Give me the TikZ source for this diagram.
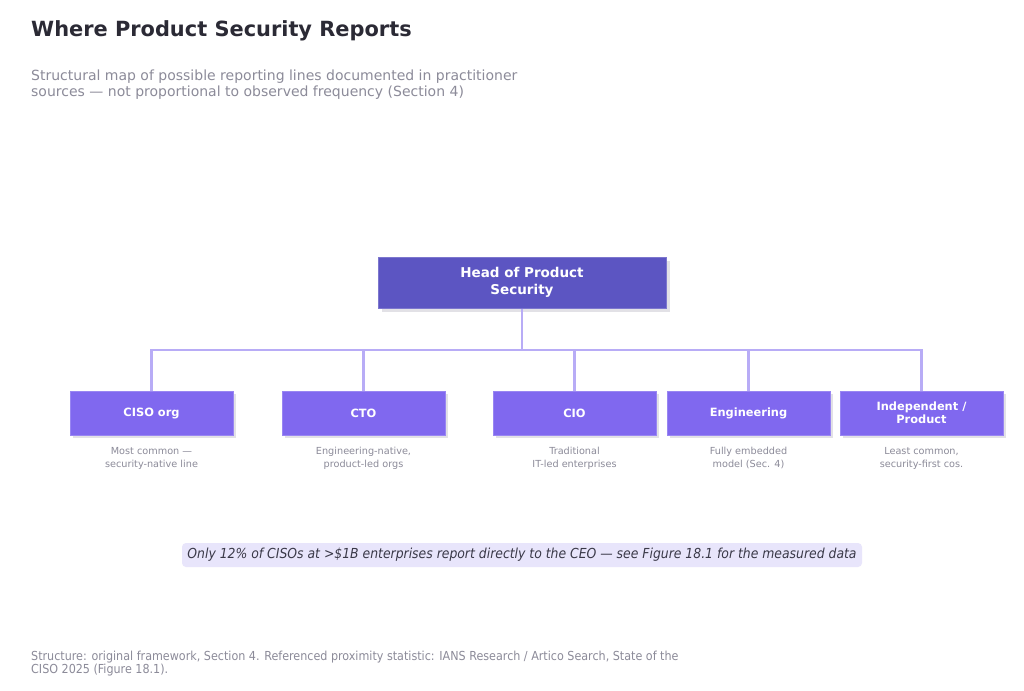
\documentclass[tikz,border=0pt]{standalone}
\usepackage{fontspec}
\setmainfont{DejaVu Sans}
\newfontfamily\condfont{DejaVu Sans Condensed}
\definecolor{titlec}{HTML}{2B2A35}
\definecolor{subc}{HTML}{8C8B99}
\definecolor{headc}{HTML}{5C55C2}
\definecolor{childc}{HTML}{8068EF}
\definecolor{linec}{HTML}{B8ACF6}
\definecolor{shadc}{HTML}{E2E1E6}
\definecolor{notec}{HTML}{E8E5FB}
\definecolor{notetxt}{HTML}{3A3948}
\begin{document}
\begin{tikzpicture}[x=1pt,y=-1pt,
  headbox/.style={fill=headc, draw=headc!80!white, line width=0.6pt, minimum width=288pt, minimum height=51pt, text=white, font=\bfseries\fontsize{13.5}{16.5}\selectfont, align=center, inner sep=0pt},
  childbox/.style={fill=childc, draw=childc!80!white, line width=0.6pt, minimum width=163pt, minimum height=44pt, text=white, font=\bfseries\fontsize{11.4}{13}\selectfont, align=center, inner sep=0pt},
  shad/.style={fill=shadc},
  captxt/.style={text=subc, font=\fontsize{9.7}{13}\selectfont, align=center, anchor=north, inner sep=0pt},
  conn/.style={draw=linec, line width=2.5pt}
]
\useasboundingbox (0,0) rectangle (1024,690);
\fill[white] (0,0) rectangle (1024,690);

% title
\node[anchor=base west, inner sep=0pt, text=titlec, font=\bfseries\fontsize{20.9}{25}\selectfont] (title) at (31,37) {Where Product Security Reports};
\node[anchor=north west, inner sep=0pt, text=subc, font=\fontsize{14}{16}\selectfont, align=left] (sub) at (31,69.5) {Structural map of possible reporting lines documented in practitioner\\sources — not proportional to observed frequency (Section 4)};

% shadows
\fill[shad] (382,261) rectangle (670,312);
\foreach \cx in {151.5,363.5,574.5,748.5,921.5}{
  \fill[shad] (\cx-81.5+3,394) rectangle (\cx+81.5+3,438);
}

% nodes
\coordinate (bus) at (522,350);
\node[headbox] (head) at (522,282.5) {Head of Product\\Security};
\node[childbox] (ciso) at (151.5,413) {CISO org};
\node[childbox] (cto) at (363.5,413) {CTO};
\node[childbox] (cio) at (574.5,413) {CIO};
\node[childbox] (eng) at (748.5,413) {Engineering};
\node[childbox] (ind) at (921.5,413) {Independent /\\Product};

% connectors
\draw[conn] (head.south) -- (bus);
\draw[conn] (ciso.north) |- (bus);
\draw[conn] (ind.north) |- (bus);
\draw[conn] (cto.north) -- (cto.north |- bus);
\draw[conn] (cio.north) -- (cio.north |- bus);
\draw[conn] (eng.north) -- (eng.north |- bus);

% redraw boxes over lines
\node[headbox] at (head) {Head of Product\\Security};
\node[childbox] at (ciso) {CISO org};
\node[childbox] at (cto) {CTO};
\node[childbox] at (cio) {CIO};
\node[childbox] at (eng) {Engineering};
\node[childbox] at (ind) {Independent /\\Product};

% captions
\node[captxt] (c1) at (151.5,447) {Most common —\\security-native line};
\node[captxt] (c2) at (363.5,447) {Engineering-native,\\product-led orgs};
\node[captxt] (c3) at (574.5,447) {Traditional\\IT-led enterprises};
\node[captxt] (c4) at (748.5,447) {Fully embedded\\model (Sec. 4)};
\node[captxt] (c5) at (921.5,447) {Least common,\\security-first cos.};

% note
\fill[notec, rounded corners=4pt] (182,543) rectangle (862,567);
\node[text=notetxt, font=\condfont\itshape\fontsize{13.8}{15}\selectfont, inner sep=0pt] (note) at (522,555) {Only 12\% of CISOs at >\$1B enterprises report directly to the CEO — see Figure 18.1 for the measured data};

% footer
\node[anchor=north west, inner sep=0pt, text=subc, font=\condfont\fontsize{12.4}{12.5}\selectfont, align=left] (foot) at (31,651) {Structure: original framework, Section 4. Referenced proximity statistic: IANS Research / Artico Search, State of the\\CISO 2025 (Figure 18.1).};
\end{tikzpicture}
\end{document}
